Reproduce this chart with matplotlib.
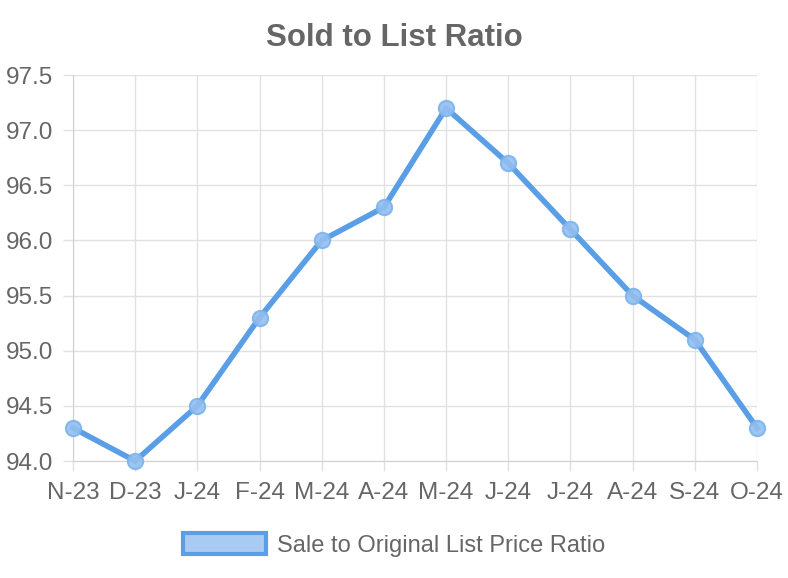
import matplotlib
matplotlib.use("Agg")
from matplotlib import pyplot as plt
from matplotlib.patches import Patch

plt.rcParams['font.family'] = ['Liberation Sans', 'DejaVu Sans']

months = ['N-23', 'D-23', 'J-24', 'F-24', 'M-24', 'A-24',
          'M-24', 'J-24', 'J-24', 'A-24', 'S-24', 'O-24']
ratio = [94.3, 94.0, 94.5, 95.3, 96.0, 96.3, 97.2, 96.7, 96.1, 95.5, 95.1, 94.3]
y_ticks = [94.0, 94.5, 95.0, 95.5, 96.0, 96.5, 97.0, 97.5]

line_color = '#5a9ee6'
fill_color = '#a9cbf2'
text_color = '#666666'
grid_color = '#e1e1e1'

fig = plt.figure(figsize=(7.88, 5.78), dpi=100)
ax = fig.add_axes([0.0926, 0.2024, 0.8681, 0.6678])

x = list(range(len(months)))
ax.plot(x, ratio, color=line_color, linewidth=4, zorder=3, clip_on=False,
        solid_joinstyle='round')
ax.plot(x, ratio, linestyle='none', marker='o', markersize=11,
        markerfacecolor='#93bff0', markeredgecolor='#7db3ee', markeredgewidth=1.5,
        alpha=0.9, clip_on=False, zorder=4)

ax.set_xlim(0, len(months) - 1)
ax.set_ylim(94.0, 97.5)
ax.set_xticks(x)
ax.set_xticklabels(months)
ax.set_yticks(y_ticks)
ax.set_yticklabels([f'{v:.1f}' for v in y_ticks])

ax.grid(True, color=grid_color, linewidth=1)
ax.set_axisbelow(True)
for side in ['top', 'right']:
    ax.spines[side].set_visible(False)
for side in ['left', 'bottom']:
    ax.spines[side].set_color('#d0d0d0')
ax.tick_params(axis='both', colors=grid_color, length=7, width=1,
               labelcolor=text_color, labelsize=17.5)
ax.tick_params(axis='x', pad=8)
ax.tick_params(axis='y', pad=7.5)

fig.text(0.5, 0.934, 'Sold to List Ratio', ha='center', va='center',
         fontsize=22.5, fontweight='bold', color=text_color)

handle = Patch(facecolor=fill_color, edgecolor=line_color, linewidth=3,
               label='Sale to Original List Price Ratio')
fig.legend(handles=[handle], loc='center', bbox_to_anchor=(0.5, 0.057),
           frameon=False, fontsize=17, handlelength=3.5, handleheight=1.0,
           labelcolor=text_color, handletextpad=0.45)

fig.savefig('out.png', dpi=100)
